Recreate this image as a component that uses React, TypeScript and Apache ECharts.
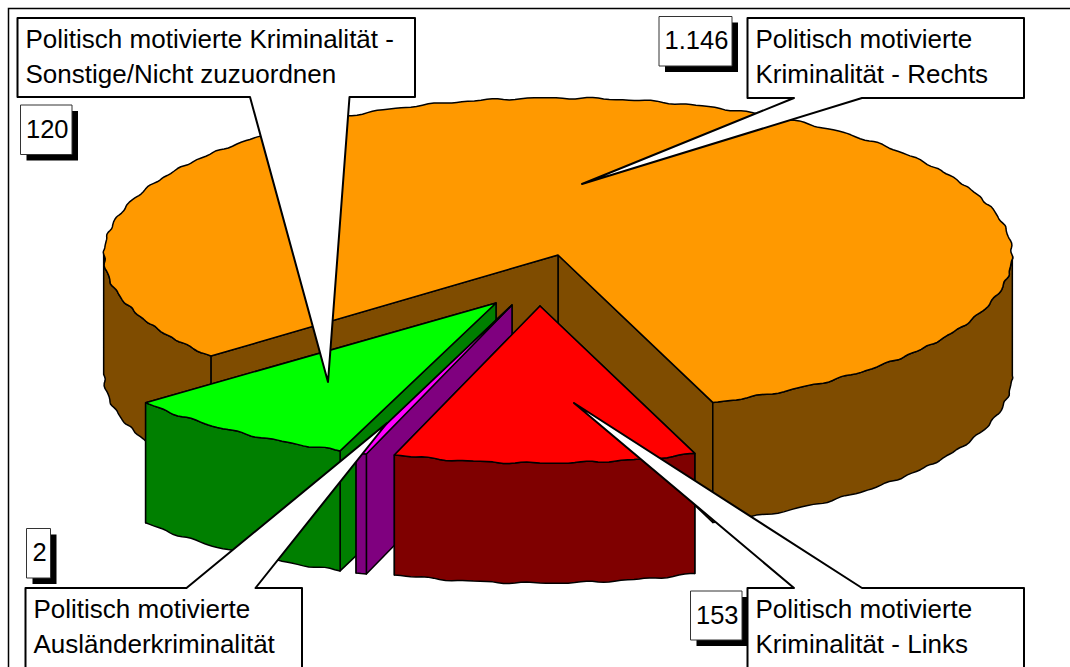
import React, { useEffect, useRef } from "react";
import * as echarts from "echarts";

const categories = [
  "Politisch motivierte Kriminalität - Rechts",
  "Politisch motivierte Kriminalität - Links",
  "Politisch motivierte Ausländerkriminalität",
  "Politisch motivierte Kriminalität - Sonstige/Nicht zuzuordnen",
];
const values = [1146, 153, 2, 120];
const valueLabels = ["1.146", "153", "2", "120"];
const topColors = ["#FF9900", "#FF0000", "#FF00FF", "#00FF00"];
const sideColors = ["#7F4C00", "#7F0000", "#7F007F", "#007F00"];
const drawOrder = [0, 3, 2, 1];

// Pie projection
const CX = 558;
const CY = 255;
const RX = 454;
const RY = 157;
const DEPTH = 120;
const START_ANGLE = 70; // degrees, clockwise from east, in ellipse parameter space
const MIN_SWEEP = 1.2;
const explode = [
  [0, 0],
  [-18, 51],
  [-46, 50],
  [-62, 48],
];

const total = values.reduce((a, b) => a + b, 0);
const sweeps = values.map((v) => (v / total) * 360);
function sliceAngles(i: number): [number, number] {
  if (i === 0) return [START_ANGLE - sweeps[0] + 360, START_ANGLE + 360];
  let s = START_ANGLE;
  for (let k = 1; k < i; k++) s += Math.max(sweeps[k], MIN_SWEEP);
  return [s, s + Math.max(sweeps[i], MIN_SWEEP)];
}

function rim(t: number, ox: number, oy: number): number[] {
  const a = (t * Math.PI) / 180;
  const wx = 0.7 * Math.sin(a * 61) + 0.4 * Math.sin(a * 97 + 1);
  const wy = 0.7 * Math.sin(a * 53 + 2) + 0.4 * Math.sin(a * 89);
  return [CX + ox + RX * Math.cos(a) + wx, CY + oy + RY * Math.sin(a) + wy];
}
function arc(s: number, e: number, ox: number, oy: number): number[][] {
  const pts: number[][] = [];
  const n = Math.max(1, Math.ceil((e - s) / 0.75));
  for (let i = 0; i <= n; i++) pts.push(rim(s + ((e - s) * i) / n, ox, oy));
  return pts;
}

const edge = { stroke: "#000", lineWidth: 1.5, lineJoin: "round" };

function renderSlice(params: any, api: any) {
  const row = params.dataIndex;
  const i = drawOrder[row];
  const [s, e] = sliceAngles(i);
  const [ox, oy] = explode[i];
  const apex = [CX + ox, CY + oy];
  const apexLow = [apex[0], apex[1] + DEPTH];
  const children: any[] = [];
  const poly = (points: number[][], fill: string) =>
    children.push({ type: "polygon", shape: { points }, style: { fill, ...edge } });
  const side = sideColors[i];
  // Cut faces: far one first
  [e, s].forEach((t) => {
    const p = rim(t, ox, oy);
    poly([apex, apexLow, [p[0], p[1] + DEPTH], p], side);
  });
  // Outer rim faces (only the near half of the ellipse shows)
  [0, 360].forEach((k) => {
    const a = Math.max(s, k);
    const b = Math.min(e, k + 180);
    if (b > a) {
      const top = arc(a, b, ox, oy);
      const low = top.map((p) => [p[0], p[1] + DEPTH]).reverse();
      poly(top.concat(low), side);
    }
  });
  poly([apex, ...arc(s, e, ox, oy)], topColors[i]);
  return { type: "group", children };
}

const FONT = "Liberation Sans";
const calloutLines = [
  ["Politisch motivierte", "Kriminalität - Rechts"],
  ["Politisch motivierte", "Kriminalität - Links"],
  ["Politisch motivierte", "Ausländerkriminalität"],
  ["Politisch motivierte Kriminalität -", "Sonstige/Nicht zuzuordnen"],
];
const calloutBoxes = [
  { x0: 747.5, y0: 18, x1: 1024, y1: 98, a: 794, b: 862, tx: 582, ty: 184, bottom: true },
  { x0: 747.5, y0: 588, x1: 1024, y1: 668, a: 794, b: 862, tx: 574, ty: 403, bottom: false },
  { x0: 25.5, y0: 588, x1: 302, y1: 668, a: 186.5, b: 255.5, tx: 387, ty: 423, bottom: false },
  { x0: 17.5, y0: 18, x1: 415, y1: 97, a: 250, b: 349.5, tx: 328, ty: 382, bottom: true },
];
const valueBoxes = [
  { x0: 659, y0: 16.5, x1: 732, y1: 66 },
  { x0: 690.5, y0: 591, x1: 742, y1: 640 },
  { x0: 26.5, y0: 528.5, x1: 50.5, y1: 578 },
  { x0: 20.5, y0: 105, x1: 72, y1: 154.5 },
];

function buildGraphics() {
  const els: any[] = [];
  let z = 100;
  const add = (el: any) => els.push({ ...el, z: z++, silent: true });
  add({
    type: "polyline",
    shape: { points: [[8.5, 680], [8.5, 8.5], [1080, 8.5]] },
    style: { stroke: "#000", lineWidth: 1.5, fill: "none" },
  });
  valueBoxes.forEach((b, i) => {
    add({
      type: "rect",
      shape: { x: b.x0 + 6, y: b.y0 + 6, width: b.x1 - b.x0, height: b.y1 - b.y0 },
      style: { fill: "#000" },
    });
    add({
      type: "rect",
      shape: { x: b.x0, y: b.y0, width: b.x1 - b.x0, height: b.y1 - b.y0 },
      style: { fill: "#fff", stroke: "#333", lineWidth: 1 },
    });
    add({
      type: "text",
      x: (b.x0 + b.x1) / 2 + 1,
      y: (b.y0 + b.y1) / 2 - 1,
      style: {
        text: valueLabels[i],
        fontFamily: FONT,
        fontSize: 25.5,
        fill: "#000",
        align: "center",
        verticalAlign: "middle",
      },
    });
  });
  calloutBoxes.forEach((b, i) => {
    const pts = b.bottom
      ? [[b.x0, b.y0], [b.x1, b.y0], [b.x1, b.y1], [b.b, b.y1], [b.tx, b.ty], [b.a, b.y1], [b.x0, b.y1]]
      : [[b.x0, b.y0], [b.a, b.y0], [b.tx, b.ty], [b.b, b.y0], [b.x1, b.y0], [b.x1, b.y1], [b.x0, b.y1]];
    add({
      type: "polygon",
      shape: { points: pts },
      style: { fill: "#fff", stroke: "#000", lineWidth: 2, lineJoin: "round" },
    });
    calloutLines[i].forEach((line, k) => {
      add({
        type: "text",
        x: b.x0 + 8,
        y: b.y0 + 21 + k * 35,
        style: {
          text: line,
          fontFamily: FONT,
          fontSize: 26,
          fill: "#000",
          align: "left",
          verticalAlign: "middle",
        },
      });
    });
  });
  return els;
}

export default function App() {
  const ref = useRef<HTMLDivElement>(null);
  useEffect(() => {
    document.body.style.margin = "0";
    document.body.style.overflow = "hidden";
    const chart = echarts.init(ref.current!, undefined, { renderer: "svg" });
    chart.setOption({
      animation: false,
      backgroundColor: "#fff",
      series: [
        {
          type: "custom",
          coordinateSystem: "none",
          silent: true,
          renderItem: renderSlice,
          data: drawOrder.map((i) => ({ name: categories[i], value: values[i] })),
        },
      ],
      graphic: buildGraphics(),
    });
    return () => chart.dispose();
  }, []);
  return <div ref={ref} style={{ width: 1070, height: 667 }} />;
}
